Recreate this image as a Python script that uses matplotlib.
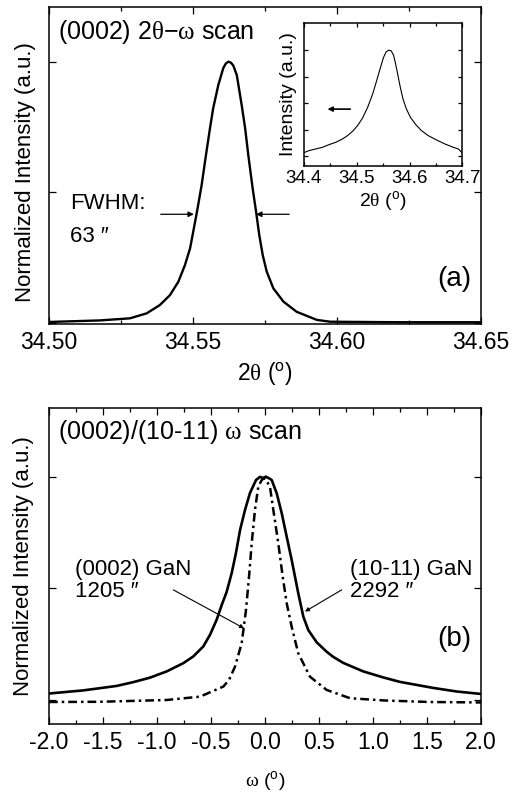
import matplotlib
matplotlib.use("Agg")
import matplotlib.pyplot as plt
from matplotlib.ticker import MultipleLocator, FormatStrFormatter

plt.rcParams['font.family'] = ['Liberation Sans', 'DejaVu Sans']
plt.rcParams['mathtext.fontset'] = 'custom'
plt.rcParams['mathtext.rm'] = 'Liberation Serif'
plt.rcParams['mathtext.sf'] = 'Liberation Sans'
plt.rcParams['axes.unicode_minus'] = False

# ---------------- data: panel (a) main 2theta-omega scan ----------------
a_x = [34.5000, 34.5177, 34.5281, 34.5339, 34.5385, 34.5420, 34.5449, 34.5472,
       34.5490, 34.5503, 34.5516, 34.5530, 34.5545, 34.5559, 34.5570, 34.5588,
       34.5605, 34.5614, 34.5623, 34.5632, 34.5640, 34.5652, 34.5660, 34.5669,
       34.5681, 34.5692, 34.5707, 34.5719, 34.5730, 34.5742, 34.5756, 34.5779,
       34.5814, 34.5860, 34.5930, 34.5976, 34.6219, 34.6500]
a_y = [0.002, 0.008, 0.016, 0.035, 0.067, 0.105, 0.156, 0.220,
       0.285, 0.361, 0.438, 0.527, 0.642, 0.745, 0.821, 0.911,
       0.975, 0.993, 1.000, 0.996, 0.985, 0.949, 0.895, 0.834,
       0.745, 0.642, 0.515, 0.425, 0.336, 0.259, 0.195, 0.131,
       0.080, 0.041, 0.010, 0.003, 0.001, 0.001]

# ---------------- data: inset (wide range) ----------------
in_x = [34.4013, 34.4095, 34.4222, 34.4350, 34.4477, 34.4604, 34.4731, 34.4826,
        34.4922, 34.5017, 34.5112, 34.5208, 34.5303, 34.5379, 34.5443, 34.5506,
        34.5557, 34.5608, 34.5653, 34.5697, 34.5735, 34.5780, 34.5824, 34.5875,
        34.5939, 34.6015, 34.6116, 34.6225, 34.6352, 34.6511, 34.6669, 34.6828,
        34.6924, 34.6987]
in_y = [0.151, 0.215, 0.278, 0.341, 0.442, 0.530, 0.656, 0.782,
        0.946, 1.161, 1.451, 1.855, 2.360, 2.864, 3.306, 3.722,
        3.937, 4.000, 3.975, 3.811, 3.495, 3.054, 2.612, 2.170,
        1.792, 1.476, 1.199, 0.972, 0.782, 0.618, 0.467, 0.341,
        0.278, 0.151]

# ---------------- data: panel (b) omega scans ----------------
b1011_x = [-2.000, -1.682, -1.373, -1.219, -1.065, -0.910, -0.756, -0.664,
           -0.571, -0.509, -0.447, -0.401, -0.355, -0.308, -0.269, -0.231,
           -0.185, -0.139, -0.083, -0.046, -0.019, 0.009, 0.046, 0.062,
           0.108, 0.155, 0.201, 0.247, 0.308, 0.355, 0.401, 0.479,
           0.571, 0.632, 0.725, 0.910, 1.095, 1.250, 1.558, 1.775, 2.000]
b1011_y = [0.029, 0.043, 0.063, 0.080, 0.100, 0.128, 0.165, 0.195,
           0.240, 0.292, 0.360, 0.425, 0.484, 0.569, 0.658, 0.761,
           0.851, 0.927, 0.985, 0.999, 0.994, 1.000, 0.990, 0.985,
           0.926, 0.836, 0.731, 0.627, 0.478, 0.373, 0.313, 0.258,
           0.216, 0.193, 0.166, 0.128, 0.101, 0.081, 0.054, 0.038, 0.027]

b0002_x = [-2.000, -1.528, -0.910, -0.602, -0.386, -0.333, -0.278, -0.216,
           -0.176, -0.148, -0.123, -0.093, -0.062, -0.028, 0.000, 0.046,
           0.077, 0.123, 0.164, 0.201, 0.247, 0.308, 0.417, 0.571,
           0.787, 1.095, 1.528, 2.000]
b0002_y = [-0.009, -0.008, 0.000, 0.015, 0.060, 0.090, 0.149, 0.254,
           0.403, 0.552, 0.702, 0.851, 0.955, 0.987, 0.993, 0.955,
           0.851, 0.702, 0.552, 0.433, 0.328, 0.209, 0.104, 0.045,
           0.008, -0.002, -0.009, -0.011]

a_xticks = [34.50, 34.55, 34.60, 34.65]
in_xticks = [34.4, 34.5, 34.6, 34.7]
b_xticks = [-2.0, -1.5, -1.0, -0.5, 0.0, 0.5, 1.0, 1.5, 2.0]

W, H = 518, 796
fig = plt.figure(figsize=(W / 100, H / 100), dpi=100)


def fax(l, t, r, b):
    return fig.add_axes([l / W, 1 - b / H, (r - l) / W, (b - t) / H])


def style(ax, size, major_len=5, minor_len=3, pad=5):
    ax.tick_params(which='both', direction='in', top=True, right=True,
                   width=0.9, labelsize=size, pad=pad)
    ax.tick_params(which='major', length=major_len)
    ax.tick_params(which='minor', length=minor_len)
    for s in ax.spines.values():
        s.set_linewidth(1.1)


TH = r'$\mathrm{\theta}$'
OM = r'$\mathrm{\omega}$'
DEG = r'($^{\mathsf{o}}$)'

# ---------------- panel (a) ----------------
ax1 = fax(49, 7, 481, 324)
ax1.plot(a_x, a_y, color='k', lw=1.7)
ax1.set_xlim(34.50, 34.65)
ax1.set_ylim(-0.00575, 1.2097)
ax1.set_xticks(a_xticks)
ax1.xaxis.set_minor_locator(MultipleLocator(0.025))
ax1.xaxis.set_major_formatter(FormatStrFormatter('%.2f'))
ax1.set_yticks([0, 0.5, 1.0])
ax1.set_yticklabels([])
style(ax1, 16.5)
ax1.set_xlabel('2' + TH + ' ' + DEG, fontsize=16.5, labelpad=5)
ax1.set_ylabel('Normalized Intensity (a.u.)', fontsize=16)
ax1.yaxis.set_label_coords(-0.03, 0.48)
ax1.text(0.0216, 0.92, '(0002) 2' + TH + '\u2212' + OM + ' scan', transform=ax1.transAxes,
         fontsize=18, ha='left', va='center')
ax1.text(34.5072, 0.435, 'FWHM:', fontsize=16, ha='left', va='baseline')
ax1.text(34.5072, 0.31, '63 \u2033', fontsize=16, ha='left', va='baseline')
arrow_kw = dict(arrowstyle='-|>', lw=0.9, color='k', mutation_scale=8,
                shrinkA=0, shrinkB=0)
ax1.annotate('', xy=(34.5503, 0.415), xytext=(34.5388, 0.415), arrowprops=arrow_kw)
ax1.annotate('', xy=(34.5719, 0.415), xytext=(34.5834, 0.415), arrowprops=arrow_kw)
ax1.text(34.6468, 0.167, '(a)', fontsize=20, ha='right', va='center')

# ---------------- inset ----------------
axi = fax(304, 22.7, 462.3, 165.7)
axi.plot(in_x, in_y, color='k', lw=0.8)
axi.set_xlim(34.4, 34.7)
axi.set_ylim(-0.353, 5.035)
axi.set_xticks(in_xticks)
axi.xaxis.set_minor_locator(MultipleLocator(0.05))
axi.xaxis.set_major_formatter(FormatStrFormatter('%.1f'))
axi.set_yticks([0, 1, 2, 3, 4])
axi.set_yticklabels([])
style(axi, 13.5, major_len=3, minor_len=2, pad=3)
axi.set_xlabel('2' + TH + ' ' + DEG, fontsize=14, labelpad=2)
axi.set_ylabel('Intensity (a.u.)', fontsize=14, labelpad=2)
axi.annotate('', xy=(34.4445, 1.779), xytext=(34.4877, 1.779),
             arrowprops=dict(arrowstyle='-|>', lw=1.2, color='k', mutation_scale=7,
                             shrinkA=0, shrinkB=0))

# ---------------- panel (b) ----------------
ax2 = fax(49, 408.3, 481, 724)
ax2.plot(b1011_x, b1011_y, color='k', lw=1.9)
ax2.plot(b0002_x, b0002_y, color='k', lw=1.8, dashes=(3.5, 1.6, 1, 1.6))
ax2.set_xlim(-2.0, 2.0)
ax2.set_ylim(-0.1075, 1.306)
ax2.set_xticks(b_xticks)
ax2.xaxis.set_minor_locator(MultipleLocator(0.25))
ax2.xaxis.set_major_formatter(FormatStrFormatter('%.1f'))
ax2.set_yticks([0, 0.5, 1.0])
ax2.set_yticklabels([])
style(ax2, 16.5)
ax2.set_xlabel(OM + ' ' + DEG, fontsize=14, labelpad=11)
ax2.set_ylabel('Normalized Intensity (a.u.)', fontsize=16)
ax2.yaxis.set_label_coords(-0.035, 0.5)
ax2.text(0.0216, 0.926, '(0002)/(10-11) ' + OM + ' scan', transform=ax2.transAxes,
         fontsize=18, ha='left', va='center')
ax2.text(-1.759, 0.56, '(0002) GaN', fontsize=16, ha='left', va='baseline')
ax2.text(-1.759, 0.461, '1205 \u2033', fontsize=16, ha='left', va='baseline')
ax2.text(0.787, 0.56, '(10-11) GaN', fontsize=16, ha='left', va='baseline')
ax2.text(0.787, 0.461, '2292 \u2033', fontsize=16, ha='left', va='baseline')
line_kw = dict(arrowstyle='-|>', lw=0.8, color='k', mutation_scale=6,
               shrinkA=0, shrinkB=0)
ax2.annotate('', xy=(-0.194, 0.321), xytext=(-0.849, 0.493), arrowprops=line_kw)
ax2.annotate('', xy=(0.370, 0.396), xytext=(0.710, 0.493), arrowprops=line_kw)
ax2.text(1.914, 0.273, '(b)', fontsize=20, ha='right', va='center')

fig.savefig('out.png', dpi=100)
